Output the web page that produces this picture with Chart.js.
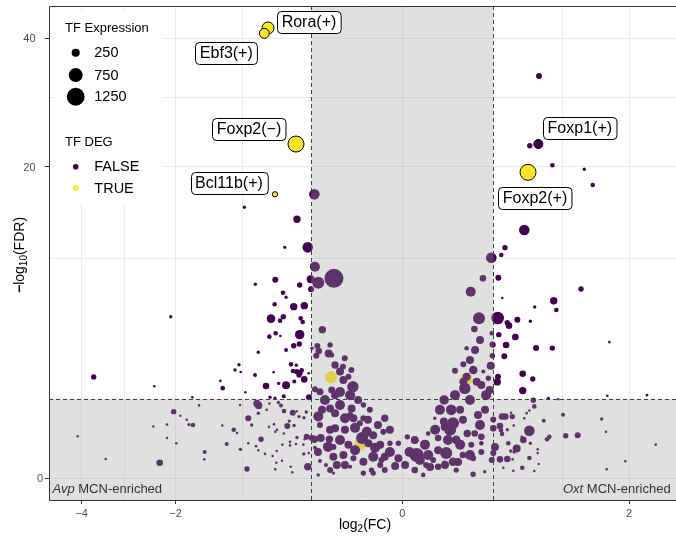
<!DOCTYPE html>
<html><head><meta charset="utf-8">
<script src="https://cdn.jsdelivr.net/npm/chart.js@4.4.1/dist/chart.umd.min.js"></script>
<style>html,body{margin:0;padding:0;background:#fff;overflow:hidden}canvas{display:block}</style>
</head><body>
<canvas id="c" width="676" height="540"></canvas>
<script>
// ---------- DATA ----------
// TF DEG = TRUE
const trueLog2FC      = [-0.702, -0.741, -0.440, -0.631, 0.615, -0.198, -0.070, 0.161];
const trueNegLog10FDR = [41.87, 40.88, 23.06, 16.64, 19.32, 2.10, 0.23, 2.03];
const trueExpression  = [560, 380, 1000, 105, 1000, 560, 560, 560];
const trueLabels      = ['Rora(+)', 'Ebf3(+)', 'Foxp2(−)', 'Bcl11b(+)', 'Foxp2(+)', '', '', ''];

// TF DEG = FALSE
const falseLog2FC = [
  0.720, 0.727, 0.632, 0.876, 1.289, 1.411, 0.579, 0.410, 0.381, 0.308,
  0.359, 1.243, 0.389, 0.892, 0.682, 0.923, 0.354, 0.429, 0.443, 0.515,
  0.638, 0.362, 0.497, 0.318, 0.419, 0.696, 0.876, 1.668, 0.405, 0.564,
  0.662, 0.351, 0.356, 0.564, 1.635, 2.330, 0.830, 0.947, 0.668, 0.678,
  0.628, 0.602, 0.579, 0.387, 0.413, 0.471, 0.460, 1.005, 1.547, 0.778,
  0.483, 0.628, 1.615, 1.039, 1.197, 0.841, 0.815, 0.570, 0.509, 0.437,
  0.638, 0.713, 0.713, 2.499, 0.628, 0.560, 0.724, 0.678, 1.935, 1.626,
  -0.971, -0.301, -0.432, -0.538, -0.348, -0.297, -0.182, -0.275, -0.327, -0.628,
  -0.841, -0.410, -0.554, -0.526, -0.324, -0.634, -0.459, -0.374, -0.671, -0.551,
  -0.582, -0.402, -0.386, -0.249, -0.624, -0.579, -0.688, -0.410, -0.459, -0.413,
  -0.526, -0.807, -0.317, -0.281, -0.272, -0.211, -0.288, -0.482, -0.437, -1.089,
  -1.038, -1.016, -0.644, -0.465, -0.434, -0.407, -0.394, -0.415, -0.374, -0.341,
  -0.844, -2.087, -3.706, -2.394, -1.289, -1.255, -0.959, -0.723, -0.595, -0.526,
  -0.454, -1.716, -0.631, -0.547, -0.339, -0.681,
  -1.608, -0.822, -0.803, -2.034, -1.918, -1.809, -1.771, -1.705, -2.413, -2.155,
  -4.100, -2.155, -1.988, -1.520, -1.526, -2.290, -3.424, -1.261, -1.106, -1.063,
  -1.200, -1.021, -0.939, -0.923, -0.833, -0.807, -0.734, -0.654, -0.777, -0.618,
  -0.628, -0.563, -0.485, -0.471, -0.348, -0.277, -0.688, -0.598, -0.573, -0.545,
  -0.467, -0.434, -0.415, -0.497, -0.515, -0.456, -0.359, -0.376, -0.611, -0.628,
  -0.641, -0.692, -0.547, -0.491, -0.432, -0.371, -0.356, -0.319, -0.491, -0.440,
  -0.381, -0.341, -0.378, -0.614, -0.560, -0.923, -0.883, -1.025, -0.807, -0.716,
  -0.275, -0.301, -0.259, -0.207, -0.215, -0.297, -0.185, -0.167, -0.264, -0.227,
  -0.275, -0.185, -0.297, -0.264, -0.194, -0.176, -0.203, -0.176, -0.264, -0.151,
  -0.106, -0.100, -0.176, -0.128, -0.093, -0.070, -0.059, -0.049, -0.033, -0.014,
  -0.045, -0.019, -0.006, -0.0006, -0.0006, -0.012, -0.033, -0.059, -0.093, -0.135,
  -0.106, -0.059, -0.033, -0.019, -0.185, -0.113, -0.012, -0.041, -0.059, -0.106,
  -0.129, -0.137, -0.095, -0.101, -0.203, -0.194, -0.176, -0.151, -0.113, -0.135,
  -0.017, -0.037,
  -0.233, -0.151, -0.128, -0.087, -0.151, -0.063, -0.029, -0.006, -0.002, -0.012,
  -0.087, -0.128, -0.203, -0.251, -0.076, -0.046, -0.023, -0.006, -0.277, -0.203,
  0.229, 0.202, 0.311, 0.161, 0.315, 0.315, 0.304, 0.145, 0.108, 0.196,
  0.161, 0.145, 0.215, 0.255, 0.288, 0.253, 0.182, 0.152, 0.243, 0.297,
  0.068, 0.093, 0.070, 0.100, 0.143, 0.050, 0.081, 0.113, 0.164, 0.204,
  0.243, 0.185, 0.243, 0.026, 0.041, 0.008, 0.026, 0.050, 0.075, 0.100,
  0.143, 0.195, 0.243, 0.006, 0.017, 0.037, 0.050, 0.070, 0.113, 0.195,
  0.264, 0.022, 0.001, 0.008, 0.067, 0.322, 0.371, 0.322, 0.379, 0.387,
  0.429, 0.334, 0.322, 0.311, 0.371, 0.429, 0.474, 0.457, 0.486, 0.397,
  0.479, 0.555,
  0.020, 0.042, 0.089, 0.130, 0.178, 0.235, 0.266, 0.178, 0.108, 0.130,
  0.055, 0.071, 0.121, 0.030, 0.012, 0.206, 0.235, 0.178, 0.273, 0.223,
  0.002, 0.0003, 0.006
];
const falseNegLog10FDR = [
  23.06, 33.41, 22.83, 20.22, 19.70, 17.75, 12.72, 10.97, 10.28, 10.03,
  8.29, 7.39, 6.70, 6.50, 6.05, 5.84, 5.29, 4.99, 4.80, 5.18,
  5.08, 4.25, 4.11, 3.67, 3.66, 3.49, 3.49, 3.82, 3.06, 2.25,
  2.03, 1.91, 2.12, 1.58, 1.40, 1.42, 1.31, 1.28, 1.25, 1.06,
  0.94, 0.87, 0.74, 0.78, 0.78, 0.78, 0.88, 0.83, 0.72, 0.68,
  0.57, 0.46, 0.44, 0.37, 0.38, 0.35, 0.31, 0.30, 0.18, 0.25,
  0.25, 0.17, 0.13, 0.23, 0.083, 0.022, 0.041, 0.010, 0.058, 0.016,
  15.15, 16.64, 13.84, 11.00, 11.00, 9.23, 8.24, 7.89, 8.16, 8.13,
  7.76, 7.70, 7.10, 6.75, 7.36, 6.24, 6.07, 6.14, 5.25, 5.38,
  5.12, 5.27, 5.03, 4.55, 4.33, 4.17, 4.13, 4.25, 3.62, 3.71,
  3.39, 3.27, 3.48, 3.60, 3.33, 3.21, 3.09, 2.67, 2.63, 2.41,
  2.65, 2.32, 2.31, 2.37, 2.34, 2.29, 2.40, 2.19, 2.01, 2.27,
  2.19, 5.38, 2.11, 1.74, 1.95, 1.67, 1.52, 1.75, 1.85, 1.78,
  1.93, 1.35, 1.32, 1.38, 1.35, 1.35,
  1.09, 1.15, 1.09, 0.91, 0.80, 0.70, 0.59, 0.58, 0.55, 0.59,
  0.36, 0.33, 0.25, 0.14, 0.072, 0.048, 0.075, 0.57, 0.48, 0.42,
  0.24, 0.17, 0.017, 0.25, 0.21, 0.16, 0.12, 0.10, 0.31, 0.048,
  0.016, 0.062, 0.026, 0.007, 0.026, 0.002, 1.15, 1.18, 1.09, 0.93,
  0.88, 0.92, 0.78, 0.67, 0.56, 0.57, 0.90, 0.75, 0.48, 0.44,
  0.60, 0.54, 0.41, 0.27, 0.34, 0.31, 0.35, 0.33, 0.22, 0.24,
  0.23, 0.13, 0.12, 0.15, 0.23, 0.74, 0.58, 1.10, 0.87, 0.96,
  0.78, 0.31, 0.33, 0.31, 0.20, 0.19, 0.094, 0.035, 0.060, 0.035,
  0.002, 0.005, 1.63, 1.54, 1.60, 1.42, 1.00, 0.87, 0.58, 1.10,
  1.42, 1.00, 0.51, 0.48, 0.74, 0.62, 0.74, 0.44, 0.38, 0.44,
  0.25, 0.23, 0.25, 0.25, 0.080, 0.094, 0.094, 0.055, 0.080, 0.109,
  0.026, 0.005, 0.005, 0.035, 0.20, 0.23, 0.74, 0.96, 1.10, 0.82,
  2.96, 2.56, 1.72, 2.41, 3.66, 3.13, 2.64, 2.34, 2.12, 1.99,
  0.067, 0.013,
  1.26, 1.53, 0.74, 0.52, 0.30, 0.33, 0.19, 0.14, 0.030, 0.013,
  0.16, 0.035, 0.48, 0.96, 1.26, 0.70, 0.58, 0.48, 0.14, 0.013,
  5.27, 4.59, 4.33, 3.48, 3.70, 3.09, 2.61, 2.67, 2.38, 2.41,
  2.12, 1.92, 1.92, 2.34, 2.06, 8.24, 7.18, 1.66, 1.79, 1.60,
  1.26, 0.96, 0.54, 0.62, 0.70, 0.33, 0.30, 0.30, 0.41, 0.41,
  0.35, 0.23, 0.25, 0.41, 0.74, 0.109, 0.109, 0.16, 0.13, 0.055,
  0.109, 0.080, 0.14, 0.013, 0.002, 0.067, 0.026, 0.045, 0.013, 0.003,
  0.008, 0.035, 0.35, 0.29, 0.66, 0.71, 0.56, 0.51, 0.47, 0.40,
  0.48, 0.20, 0.13, 0.067, 0.072, 0.075, 0.072, 0.15, 0.14, 0.022,
  0.011, 0.35,
  0.23, 0.48, 0.48, 0.23, 0.109, 0.58, 0.96, 1.26, 1.42, 0.96,
  0.96, 0.035, 0.053, 0.025, 0.067, 3.39, 3.94, 2.88, 1.42, 0.82,
  0.14, 0.035, 0.30
];
const falseExpression = [
  310, 135, 108, 77, 41, 77, 433, 108, 77, 433,
  135, 108, 23, 207, 41, 77, 615, 108, 164, 135,
  41, 108, 164, 135, 164, 135, 108, 23, 135, 164,
  108, 207, 135, 207, 23, 23, 41, 23, 108, 77,
  23, 23, 23, 164, 164, 108, 23, 58, 41, 58,
  23, 433, 23, 108, 135, 77, 77, 164, 243, 77,
  41, 23, 23, 23, 77, 77, 23, 23, 23, 23,
  41, 433, 207, 41, 433, 384, 1414, 557, 243, 135,
  41, 108, 77, 41, 135, 77, 207, 207, 282, 108,
  77, 77, 77, 207, 77, 23, 77, 339, 108, 108,
  58, 41, 41, 135, 164, 243, 135, 77, 41, 41,
  41, 23, 23, 77, 108, 108, 77, 108, 164, 23,
  58, 41, 108, 23, 23, 77, 23, 164, 41, 243,
  58, 23, 41, 58, 135, 41,
  23, 207, 207, 108, 23, 23, 41, 77, 23, 23,
  23, 23, 23, 58, 23, 164, 23, 23, 77, 23,
  58, 41, 108, 23, 23, 23, 23, 23, 108, 23,
  23, 23, 23, 23, 207, 23, 23, 41, 58, 77,
  135, 23, 41, 41, 135, 41, 41, 41, 23, 23,
  23, 23, 23, 23, 41, 23, 135, 135, 23, 23,
  23, 23, 41, 23, 23, 135, 41, 23, 41, 23,
  384, 207, 243, 207, 384, 58, 243, 243, 58, 58,
  41, 41, 135, 185, 185, 243, 243, 243, 135, 384,
  384, 243, 243, 243, 243, 135, 135, 384, 243, 135,
  243, 243, 108, 108, 243, 243, 384, 243, 135, 243,
  58, 108, 108, 135, 135, 243, 207, 135, 108, 135,
  135, 135, 502, 135, 108, 92, 207, 243, 135, 243,
  135, 108,
  384, 384, 384, 384, 384, 557, 384, 384, 243, 135,
  384, 243, 243, 243, 243, 243, 243, 243, 243, 135,
  557, 164, 77, 77, 108, 108, 243, 135, 135, 282,
  243, 243, 243, 58, 108, 164, 384, 502, 243, 243,
  339, 433, 243, 557, 243, 164, 384, 282, 207, 164,
  164, 135, 77, 77, 41, 762, 384, 243, 557, 282,
  164, 135, 135, 164, 77, 135, 164, 108, 108, 108,
  41, 135, 108, 58, 243, 135, 164, 164, 77, 77,
  41, 243, 135, 135, 164, 164, 23, 41, 41, 23,
  23, 23,
  384, 384, 557, 384, 384, 384, 243, 384, 384, 243,
  384, 243, 243, 243, 384, 243, 243, 243, 384, 243,
  384, 243, 243
];
const falseLabels = ['Foxp1(+)'];   // labels for the first FALSE entries

const xTicks = [-4, -3, -2, -1, 0, 1, 2];
const xTickLabels = ['−4', '', '−2', '', '0', '', '2'];
const yTicks = [0, 10, 20, 30, 40];
const yTickLabels = ['0', '', '20', '', '40'];
const fcThreshold = 0.3219;     // log2(1.25)
const fdrThreshold = 1.301;     // -log10(0.05)
const sizeLegendValues = [250, 750, 1250];
const degLegendLabels = ['FALSE', 'TRUE'];

// ---------- STYLE ----------
const FONT = "'Liberation Sans', Arial, Helvetica, sans-serif";
const PURPLE = '#440154', YELLOW = '#FDE725';
const radiusFor = e => 0.1 + 0.25 * Math.sqrt(e);
const labelOffsets = {
  'Rora(+)': [41, -6], 'Ebf3(+)': [-38, 19.5], 'Foxp2(−)': [-47, -15],
  'Bcl11b(+)': [-46, -11.5], 'Foxp1(+)': [41.5, -16], 'Foxp2(+)': [7, 25.7]
};
const yLabelRight = [43, 0, 35.5, 0, 35.5];

// ---------- signed square-root scale ----------
const sq = v => Math.sign(v) * Math.sqrt(Math.abs(v));
class SqrtScale extends Chart.LinearScale {
  getPixelForValue(value) {
    if (value === null || value === undefined || isNaN(value)) return NaN;
    const a = sq(this.min), b = sq(this.max);
    return this.getPixelForDecimal((sq(value) - a) / (b - a));
  }
  getValueForPixel(pixel) {
    const a = sq(this.min), b = sq(this.max);
    const s = a + this.getDecimalForPixel(pixel) * (b - a);
    return Math.sign(s) * s * s;
  }
}
SqrtScale.id = 'sqrt';
SqrtScale.defaults = {};
Chart.register(SqrtScale);

function build(xs, ys, es, labs) {
  return xs.map((x, i) => ({ x, y: ys[i], e: es[i], lab: labs[i] || '' }));
}
const ptsFalse = build(falseLog2FC, falseNegLog10FDR, falseExpression, falseLabels);
const ptsTrue = build(trueLog2FC, trueNegLog10FDR, trueExpression, trueLabels);

function textRun(ctx, parts, x, y) {
  let cx = x;
  for (const [t, f, dy] of parts) { ctx.font = f; ctx.fillText(t, cx, y + (dy || 0)); cx += ctx.measureText(t).width; }
}
function runWidth(ctx, parts) {
  let w = 0; for (const [t, f] of parts) { ctx.font = f; w += ctx.measureText(t).width; } return w;
}

const decor = {
  id: 'decor',
  afterDatasetsDraw(chart) {
    const { ctx, chartArea: a, scales: { x: xs, y: ys } } = chart;
    const xl = xs.getPixelForValue(-fcThreshold), xr = xs.getPixelForValue(fcThreshold);
    const yt = ys.getPixelForValue(fdrThreshold);
    ctx.save();
    ctx.beginPath(); ctx.rect(a.left, a.top, a.right - a.left, a.bottom - a.top); ctx.clip();
    ctx.fillStyle = 'rgba(157,157,157,0.316)';
    ctx.beginPath();
    ctx.rect(xl, a.top, xr - xl, a.bottom - a.top);
    ctx.rect(a.left, yt, a.right - a.left, a.bottom - yt);
    ctx.fill();
    ctx.strokeStyle = '#404040'; ctx.lineWidth = 1; ctx.setLineDash([4, 3]);
    ctx.beginPath();
    ctx.moveTo(Math.round(xl) + 0.5, a.top); ctx.lineTo(Math.round(xl) + 0.5, a.bottom);
    ctx.moveTo(Math.round(xr) + 0.5, a.top); ctx.lineTo(Math.round(xr) + 0.5, a.bottom);
    ctx.moveTo(a.left, Math.round(yt) + 0.5); ctx.lineTo(a.right, Math.round(yt) + 0.5);
    ctx.stroke();
    ctx.restore();
    // panel border (top, left, bottom; right side lies beyond the picture)
    ctx.save();
    ctx.strokeStyle = '#333333'; ctx.lineWidth = 1;
    ctx.beginPath();
    ctx.moveTo(a.right, a.top + 0.5); ctx.lineTo(a.left + 0.5, a.top + 0.5);
    ctx.lineTo(a.left + 0.5, a.bottom + 0.5); ctx.lineTo(a.right, a.bottom + 0.5);
    ctx.stroke();
    ctx.restore();
  },
  afterDraw(chart) {
    const { ctx, chartArea: a, scales: { x: xs, y: ys } } = chart;
    ctx.save();
    // y tick labels
    ctx.fillStyle = '#4D4D4D'; ctx.font = '11px ' + FONT; ctx.textAlign = 'right'; ctx.textBaseline = 'middle';
    yTicks.forEach((v, i) => { if (yTickLabels[i]) ctx.fillText(yTickLabels[i], yLabelRight[i], ys.getPixelForValue(v) + 0.5); });

    // corner annotations
    ctx.fillStyle = '#333333'; ctx.textBaseline = 'alphabetic'; ctx.textAlign = 'left';
    textRun(ctx, [['Avp', 'italic 13px ' + FONT], [' MCN-enriched', '13px ' + FONT]], 52.5, 493);
    textRun(ctx, [['Oxt', 'italic 13px ' + FONT], [' MCN-enriched', '13px ' + FONT]], 563, 493);

    // gene labels
    const drawLabel = (p) => {
      const off = labelOffsets[p.lab] || [0, 0];
      const cx = xs.getPixelForValue(p.x) + off[0], cy = ys.getPixelForValue(p.y) + off[1];
      ctx.font = '16px ' + FONT;
      const w = ctx.measureText(p.lab).width + 9, h = 22, r = 4;
      const x0 = Math.round(cx - w / 2) + 0.5, y0 = Math.round(cy - h / 2) + 0.5;
      ctx.beginPath();
      ctx.moveTo(x0 + r, y0); ctx.lineTo(x0 + w - r, y0); ctx.arcTo(x0 + w, y0, x0 + w, y0 + r, r);
      ctx.lineTo(x0 + w, y0 + h - r); ctx.arcTo(x0 + w, y0 + h, x0 + w - r, y0 + h, r);
      ctx.lineTo(x0 + r, y0 + h); ctx.arcTo(x0, y0 + h, x0, y0 + h - r, r);
      ctx.lineTo(x0, y0 + r); ctx.arcTo(x0, y0, x0 + r, y0, r); ctx.closePath();
      ctx.fillStyle = '#ffffff'; ctx.fill();
      ctx.strokeStyle = '#000000'; ctx.lineWidth = 1; ctx.stroke();
      ctx.fillStyle = '#000000'; ctx.textAlign = 'center'; ctx.textBaseline = 'middle';
      ctx.fillText(p.lab, cx, cy + 1);
    };
    ptsTrue.filter(p => p.lab).forEach(drawLabel);
    ptsFalse.filter(p => p.lab).forEach(drawLabel);

    // legend
    ctx.fillStyle = '#ffffff'; ctx.fillRect(55, 12, 107, 191);
    ctx.fillStyle = '#000000'; ctx.textAlign = 'left'; ctx.textBaseline = 'middle';
    ctx.font = '13px ' + FONT; ctx.fillText('TF Expression', 65, 28);
    const sizeY = [52.7, 75, 96.7];
    sizeLegendValues.forEach((v, i) => {
      ctx.beginPath(); ctx.arc(75.7, sizeY[i], radiusFor(v), 0, Math.PI * 2); ctx.fillStyle = '#000'; ctx.fill();
      ctx.font = '14.5px ' + FONT; ctx.fillText(String(v), 94.3, sizeY[i] + 0.5);
    });
    ctx.font = '13px ' + FONT; ctx.fillText('TF DEG', 65, 142.3);
    const degY = [166.7, 188], degCol = [PURPLE, YELLOW];
    degLegendLabels.forEach((t, i) => {
      ctx.beginPath(); ctx.arc(75.7, degY[i], 2.8, 0, Math.PI * 2); ctx.fillStyle = degCol[i]; ctx.fill();
      ctx.fillStyle = '#000'; ctx.font = '14.5px ' + FONT; ctx.fillText(t, 94.3, degY[i] + 0.5);
    });

    // axis titles
    ctx.fillStyle = '#000000'; ctx.textBaseline = 'alphabetic'; ctx.textAlign = 'left';
    const xt = [['log', '14px ' + FONT, 0], ['2', '10px ' + FONT, 3], ['(FC)', '14px ' + FONT, 0]];
    textRun(ctx, xt, 365 - runWidth(ctx, xt) / 2, 529);
    const yt = [['−', 'bold 14px ' + FONT, 0], ['log', '14px ' + FONT, 0], ['10', '10px ' + FONT, 3], ['(FDR)', '14px ' + FONT, 0]];
    ctx.translate(24, 255); ctx.rotate(-Math.PI / 2);
    textRun(ctx, yt, -runWidth(ctx, yt) / 2, 0);
    ctx.restore();
  }
};

const common = {
  pointRadius: c => radiusFor(c.raw.e),
  pointHoverRadius: c => radiusFor(c.raw.e),
  pointBorderColor: c => c.raw.lab ? '#000000' : 'rgba(0,0,0,0)',
  pointBorderWidth: c => c.raw.lab ? 1 : 0,
};

new Chart(document.getElementById('c'), {
  type: 'scatter',
  data: {
    datasets: [
      Object.assign({ label: 'FALSE', data: ptsFalse, backgroundColor: PURPLE, pointBackgroundColor: PURPLE }, common),
      Object.assign({ label: 'TRUE', data: ptsTrue, backgroundColor: YELLOW, pointBackgroundColor: YELLOW }, common)
    ]
  },
  options: {
    responsive: false, animation: false, devicePixelRatio: 1,
    layout: { autoPadding: false, padding: { top: 6, left: 0, right: 0, bottom: 0 } },
    plugins: { legend: { display: false }, tooltip: { enabled: false } },
    scales: {
      x: {
        type: 'sqrt', min: -4.858, max: 2.915, bounds: 'data',
        afterBuildTicks: s => { s.ticks = xTicks.map(v => ({ value: v })); },
        afterFit: s => { s.height = 40; s.paddingLeft = 0; s.paddingRight = 0; s.paddingTop = 0; s.paddingBottom = 0; },
        ticks: { autoSkip: false, maxRotation: 0, minRotation: 0, padding: 3, color: '#4D4D4D',
                 font: { family: FONT, size: 11 }, callback: (v, i) => xTickLabels[i] },
        grid: { color: '#EBEBEB', lineWidth: 1, drawTicks: true, tickLength: 4, tickWidth: 1,
                tickColor: c => xTickLabels[c.index] ? '#333333' : 'rgba(0,0,0,0)' },
        border: { display: false }
      },
      y: {
        type: 'sqrt', min: -0.1, max: 46.06, bounds: 'data',
        afterBuildTicks: s => { s.ticks = yTicks.map(v => ({ value: v })); },
        afterFit: s => { s.width = 49; s.paddingLeft = 0; s.paddingRight = 0; s.paddingTop = 0; s.paddingBottom = 0; },
        ticks: { autoSkip: false, padding: 2, color: 'rgba(0,0,0,0)',
                 font: { family: FONT, size: 11 }, callback: () => '' },
        grid: { color: '#EBEBEB', lineWidth: 1, drawTicks: true, tickLength: 4, tickWidth: 1,
                tickColor: c => yTickLabels[c.index] ? '#333333' : 'rgba(0,0,0,0)' },
        border: { display: false }
      }
    }
  },
  plugins: [decor]
});
</script>
</body></html>
